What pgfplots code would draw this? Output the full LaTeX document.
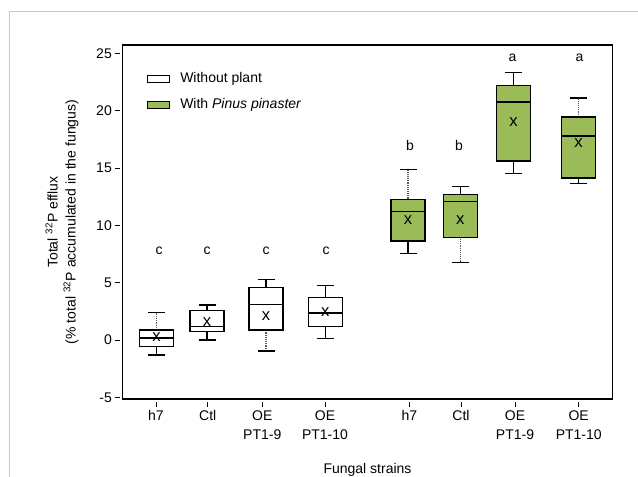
\documentclass[border=0pt]{standalone}
\usepackage{fontspec}
\setmainfont{Liberation Sans}
\usepackage{pgfplots}
\pgfplotsset{compat=1.18}
\definecolor{pgreen}{RGB}{155,187,89}
\definecolor{framegray}{RGB}{200,200,200}

% box: center, lower whisker, lower quartile, median, upper quartile, upper whisker, mean, fill
\newcommand\bx[8]{%
  \pgfmathsetmacro\xa{#1-17}%
  \pgfmathsetmacro\xb{#1+17}%
  \pgfmathsetmacro\ca{#1-8.5}%
  \pgfmathsetmacro\cb{#1+8.5}%
  \edef\tmp{%
    \noexpand\addplot[boxline, fill=#8] coordinates {(\xa,#3) (\xb,#3) (\xb,#5) (\xa,#5) (\xa,#3)};
    \noexpand\addplot[boxline] coordinates {(\xa,#4) (\xb,#4)};
    \noexpand\addplot[capline] coordinates {(\ca,#2) (\cb,#2)};
    \noexpand\addplot[capline] coordinates {(\ca,#6) (\cb,#6)};
    \noexpand\addplot[meanmark] coordinates {(#1,#7)};
  }\tmp
}
% whisker: center, from, to, style
\newcommand\wh[4]{\addplot[#4] coordinates {(#1,#2) (#1,#3)};}

\begin{document}
\begin{tikzpicture}[font=\fontsize{10.5}{12}\selectfont]
\useasboundingbox (0,0) rectangle (478.5pt,357.75pt);
\draw[framegray, line width=0.75pt] (7pt,0) -- (7pt,349.3pt) -- (478.5pt,349.3pt);
\begin{axis}[
  at={(91.875pt,58.5pt)}, anchor=south west,
  scale only axis, width=367.5pt, height=265.5pt,
  xmin=122.5, xmax=612.5, ymin=-5.15, ymax=25.75,
  axis line style={line width=1.1pt},
  xtick={156,207.7,262.3,325,409.3,461,515,578.7},
  xticklabels={h7,Ctl,{OE\\PT1-9},{OE\\PT1-10},h7,Ctl,{OE\\PT1-9},{OE\\PT1-10}},
  xticklabel style={align=center, font=\fontsize{10.5}{14.25}\selectfont, yshift=-1.5pt},
  ytick={-5,0,...,25},
  yticklabel style={font=\fontsize{10.5}{12}\selectfont, xshift=-1pt},
  tick align=outside, xtick pos=bottom, ytick pos=left,
  major tick length=3.5pt,
  xtick style={yshift=-2.25pt, line width=0.6pt, black},
  ytick style={xshift=-2.25pt, line width=0.6pt, black},
  /pgf/number format/assume math mode=true,
  ylabel={Total \textsuperscript{32}P efflux\\(\% total \textsuperscript{32}P accumulated in the fungus)},
  ylabel style={at={(axis description cs:-0.1235,0.5)}, anchor=center, align=center, font=\fontsize{10.5}{13.5}\selectfont},
  xlabel={Fungal strains},
  xlabel style={at={(axis description cs:0.5,-0.2)}, anchor=center},
  clip=false,
  boxline/.style={black, line width=0.95pt, line cap=rect, mark=none},
  capline/.style={black, line width=0.95pt, mark=none},
  solidw/.style={black, line width=0.8pt, mark=none},
  dotw/.style={black!65, line width=0.8pt, dash pattern=on 0.7pt off 0.7pt, mark=none},
  meanmark/.style={only marks, mark=text, text mark={\fontsize{12.5}{12}\selectfont x}},
]
% without plant
\wh{156.5}{-1.31}{-0.55}{solidw}
\wh{156.5}{0.88}{2.37}{dotw}
\bx{156.5}{-1.31}{-0.55}{0.18}{0.88}{2.37}{0.25}{white}

\wh{207}{0.0}{0.72}{solidw}
\wh{207}{2.55}{3.05}{solidw}
\bx{207}{0.0}{0.72}{1.18}{2.55}{3.05}{1.53}{white}

\wh{266}{-0.97}{0.88}{dotw}
\wh{266}{4.56}{5.26}{solidw}
\bx{266}{-0.97}{0.88}{3.07}{4.56}{5.26}{2.1}{white}

\wh{325.3}{0.14}{1.16}{solidw}
\wh{325.3}{3.72}{4.78}{solidw}
\bx{325.3}{0.14}{1.16}{2.36}{3.72}{4.78}{2.43}{white}

% with Pinus pinaster
\wh{408}{7.53}{8.64}{solidw}
\wh{408}{12.28}{14.86}{dotw}
\bx{408}{7.53}{8.64}{11.2}{12.28}{14.86}{10.5}{pgreen}

\wh{460.3}{6.78}{8.96}{dotw}
\wh{460.3}{12.68}{13.41}{solidw}
\bx{460.3}{6.78}{8.96}{12.1}{12.68}{13.41}{10.5}{pgreen}

\wh{513.5}{14.51}{15.62}{solidw}
\wh{513.5}{22.23}{23.32}{solidw}
\bx{513.5}{14.51}{15.62}{20.77}{22.23}{23.32}{19.02}{pgreen}

\wh{578.5}{13.67}{14.14}{solidw}
\wh{578.5}{19.46}{21.12}{dotw}
\bx{578.5}{13.67}{14.14}{17.8}{19.46}{21.12}{17.16}{pgreen}

% significance letters
\node at (axis cs:159,7.8) {c};
\node at (axis cs:207,7.8) {c};
\node at (axis cs:266,7.8) {c};
\node at (axis cs:326,7.8) {c};
\node at (axis cs:410,17.0) {b};
\node at (axis cs:459,17.0) {b};
\node at (axis cs:512.5,24.6) {a};
\node at (axis cs:579.5,24.6) {a};

% legend
\draw[black, line width=0.75pt, fill=white] (axis cs:147.7,22.49) rectangle (axis cs:169.3,23.06);
\draw[black, line width=0.75pt, fill=pgreen] (axis cs:147.7,20.22) rectangle (axis cs:169.3,20.79);
\node[anchor=base west, inner sep=0pt, font=\fontsize{10.5}{12}\selectfont] at (axis cs:180,22.51) {Without plant};
\node[anchor=base west, inner sep=0pt, font=\fontsize{10.5}{12}\selectfont] at (axis cs:180,20.24) {With \textit{Pinus pinaster}};
\end{axis}
\end{tikzpicture}
\end{document}
